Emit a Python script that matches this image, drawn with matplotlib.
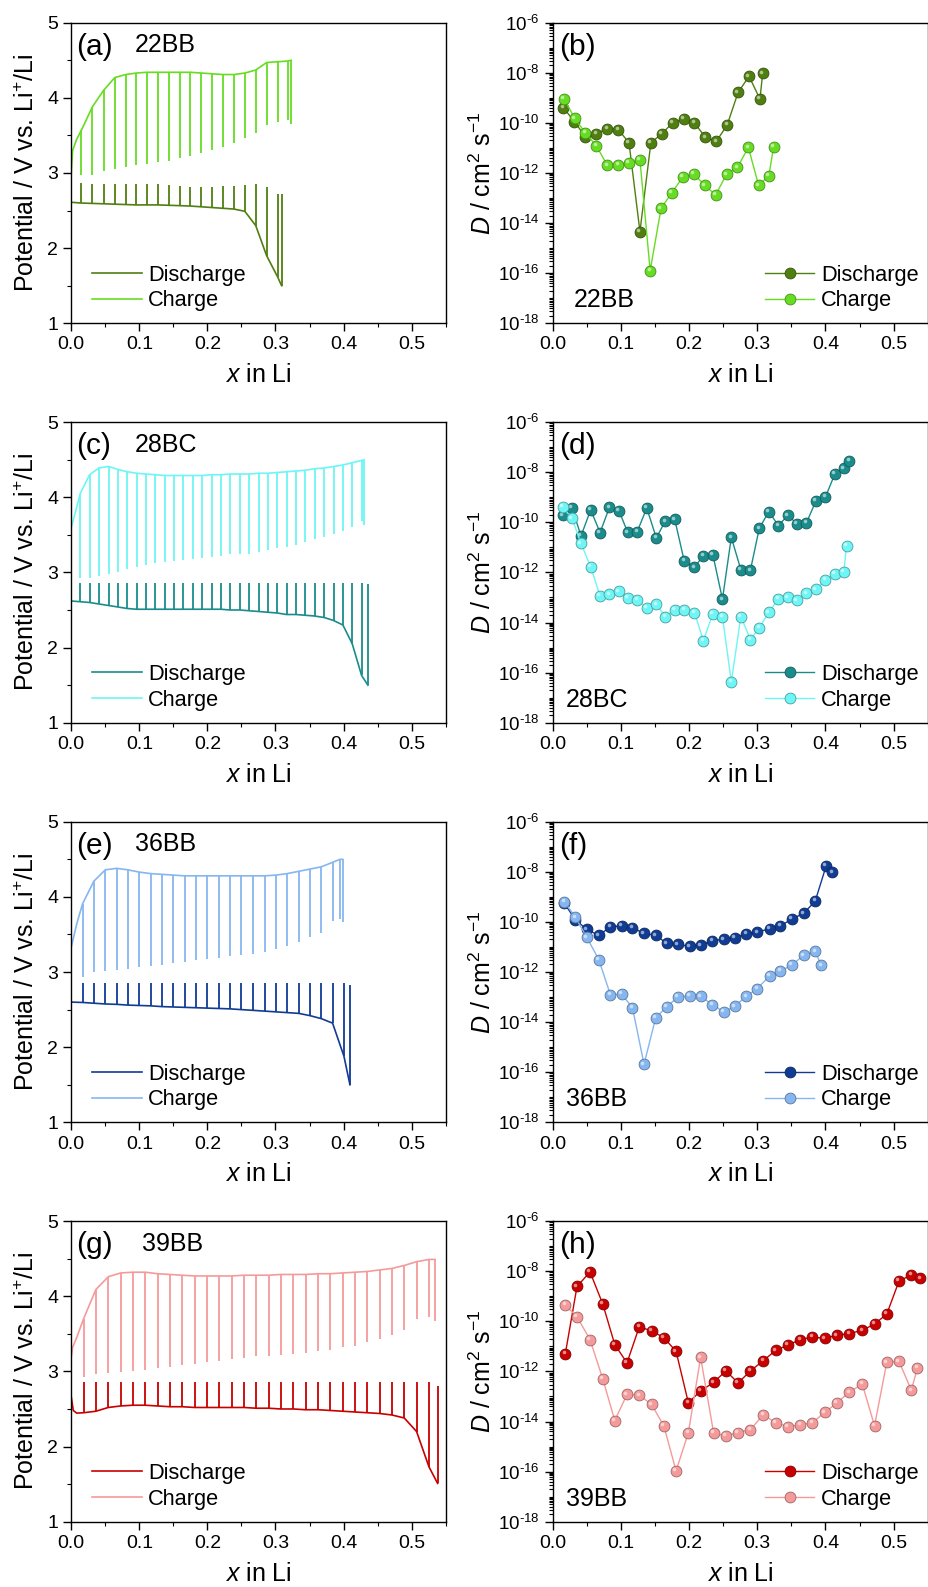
import numpy as np
import matplotlib
matplotlib.use('Agg')
import matplotlib.pyplot as plt
from matplotlib.ticker import MultipleLocator, FixedLocator, LogLocator, FuncFormatter, NullFormatter
from matplotlib.transforms import offset_copy
from matplotlib.colors import to_rgb

plt.rcParams['font.family'] = ['Liberation Sans', 'DejaVu Sans']
plt.rcParams['mathtext.fontset'] = 'custom'
plt.rcParams['mathtext.rm'] = 'Liberation Sans'
plt.rcParams['mathtext.it'] = 'Liberation Sans:italic'
plt.rcParams['axes.linewidth'] = 1.0

# ---------------- 22BB ----------------
a_chg_head_x = [0.0, 0.002, 0.008]
a_chg_head_v = [3.00, 3.30, 3.45]
a_chg_x = [0.015, 0.031, 0.0475, 0.064, 0.080, 0.0955, 0.111, 0.127, 0.1435, 0.160, 0.175,
           0.191, 0.207, 0.223, 0.239, 0.255, 0.271, 0.287, 0.303, 0.318, 0.323]
a_chg_ccv = [3.57, 3.88, 4.10, 4.27, 4.31, 4.33, 4.34, 4.34, 4.34, 4.34, 4.34,
             4.33, 4.32, 4.31, 4.31, 4.33, 4.37, 4.47, 4.48, 4.49, 4.50]
a_chg_ocv = [2.97, 2.97, 3.03, 3.05, 3.08, 3.10, 3.12, 3.15, 3.16, 3.20, 3.23,
             3.26, 3.31, 3.35, 3.40, 3.46, 3.53, 3.64, 3.68, 3.70, 3.65]
a_dis_head_x = [0.0]
a_dis_head_v = [2.61]
a_dis_x = [0.015, 0.031, 0.0475, 0.064, 0.080, 0.0955, 0.111, 0.127, 0.1435, 0.160,
           0.175, 0.191, 0.207, 0.223, 0.239, 0.255, 0.271, 0.287, 0.303, 0.309]
a_dis_ccv = [2.60, 2.595, 2.59, 2.585, 2.58, 2.575, 2.575, 2.575, 2.57, 2.565,
             2.56, 2.55, 2.54, 2.53, 2.52, 2.49, 2.30, 1.90, 1.62, 1.50]
a_dis_ocv = [2.87, 2.86, 2.85, 2.85, 2.85, 2.85, 2.85, 2.85, 2.84, 2.83,
             2.82, 2.81, 2.82, 2.83, 2.83, 2.84, 2.85, 2.81, 2.72, 2.72]

b_dis_x = [0.0157, 0.0318, 0.048, 0.064, 0.080, 0.0965, 0.112, 0.128, 0.144, 0.160,
           0.176, 0.192, 0.208, 0.224, 0.240, 0.256, 0.272, 0.288, 0.304, 0.308]
b_dis_logD = [-9.39, -9.95, -10.55, -10.43, -10.23, -10.27, -10.80, -14.34, -10.80, -10.43,
              -10.00, -9.83, -10.00, -10.58, -10.74, -10.08, -8.78, -8.14, -9.05, -8.02]
b_chg_x = [0.0167, 0.0323, 0.048, 0.064, 0.080, 0.0965, 0.112, 0.128, 0.143, 0.159, 0.175,
           0.191, 0.207, 0.223, 0.239, 0.255, 0.271, 0.287, 0.302, 0.317, 0.324]
b_chg_logD = [-9.03, -9.82, -10.40, -10.91, -11.69, -11.67, -11.59, -11.48, -15.90, -13.41, -12.78,
              -12.16, -12.04, -12.49, -12.88, -12.05, -11.77, -10.98, -12.49, -12.12, -10.96]

# ---------------- 28BC ----------------
c_chg_head_x = [0.0, 0.006]
c_chg_head_v = [3.60, 3.80]
c_chg_x = [0.0132, 0.0269, 0.0406, 0.0548, 0.0686, 0.0823, 0.0960, 0.1097, 0.1234, 0.1371,
           0.1508, 0.1645, 0.1783, 0.1920, 0.2062, 0.2199, 0.2336, 0.2478, 0.2615, 0.2752,
           0.2889, 0.3026, 0.3164, 0.3301, 0.3438, 0.3575, 0.3717, 0.3854, 0.3991, 0.4128,
           0.4265, 0.4300]
c_chg_ccv = [4.05, 4.30, 4.39, 4.41, 4.37, 4.34, 4.32, 4.31, 4.30, 4.29,
             4.29, 4.29, 4.29, 4.29, 4.30, 4.30, 4.31, 4.31, 4.31, 4.32,
             4.32, 4.33, 4.34, 4.35, 4.36, 4.38, 4.39, 4.41, 4.43, 4.46,
             4.49, 4.50]
c_chg_ocv = [2.93, 2.93, 2.95, 2.98, 3.01, 3.04, 3.07, 3.10, 3.12, 3.14,
             3.15, 3.16, 3.18, 3.19, 3.21, 3.22, 3.24, 3.24, 3.25, 3.27,
             3.30, 3.32, 3.34, 3.37, 3.41, 3.44, 3.47, 3.51, 3.55, 3.61,
             3.68, 3.63]
c_dis_head_x = [0.0]
c_dis_head_v = [2.62]
c_dis_x = c_chg_x[:31] + [0.4358]
c_dis_ccv = [2.61, 2.60, 2.58, 2.56, 2.54, 2.52, 2.51, 2.51, 2.51, 2.51,
             2.51, 2.51, 2.51, 2.51, 2.51, 2.51, 2.50, 2.50, 2.49, 2.48,
             2.47, 2.46, 2.44, 2.44, 2.43, 2.42, 2.40, 2.36, 2.30, 2.05,
             1.63, 1.50]
c_dis_ocv = [2.86, 2.86, 2.86, 2.86, 2.86, 2.86, 2.86, 2.86, 2.86, 2.86,
             2.86, 2.86, 2.86, 2.86, 2.86, 2.86, 2.86, 2.86, 2.86, 2.86,
             2.86, 2.86, 2.86, 2.86, 2.86, 2.86, 2.86, 2.86, 2.86, 2.86,
             2.86, 2.84]

d_dis_x = [0.0147, 0.0284, 0.0416, 0.0558, 0.0695, 0.0833, 0.0975, 0.110, 0.124, 0.138,
           0.152, 0.165, 0.179, 0.193, 0.208, 0.221, 0.235, 0.249, 0.262, 0.276,
           0.290, 0.303, 0.317, 0.331, 0.345, 0.358, 0.372, 0.386, 0.400, 0.414,
           0.427, 0.435]
d_dis_logD = [-9.72, -9.43, -10.54, -9.50, -10.41, -9.40, -9.55, -10.40, -10.37, -9.43,
              -10.62, -9.96, -9.88, -11.55, -11.79, -11.33, -11.30, -13.07, -10.60, -11.89,
              -11.91, -10.24, -9.57, -10.13, -9.72, -10.05, -10.03, -9.15, -8.99, -8.06,
              -7.85, -7.54]
d_chg_x = [0.0147, 0.0284, 0.0416, 0.0558, 0.0695, 0.0833, 0.0975, 0.110, 0.124, 0.138,
           0.152, 0.165, 0.179, 0.193, 0.208, 0.221, 0.235, 0.249, 0.262, 0.276,
           0.290, 0.303, 0.317, 0.331, 0.345, 0.358, 0.372, 0.386, 0.400, 0.414,
           0.427, 0.431]
d_chg_logD = [-9.39, -9.84, -10.84, -11.78, -12.94, -12.88, -12.76, -13.02, -13.10, -13.42,
              -13.27, -13.76, -13.49, -13.48, -13.60, -14.73, -13.64, -13.76, -16.37, -13.76,
              -14.68, -14.21, -13.59, -13.06, -12.99, -13.12, -12.84, -12.67, -12.30, -12.05,
              -11.97, -10.93]

# ---------------- 36BB ----------------
e_chg_head_x = [0.0, 0.008]
e_chg_head_v = [3.33, 3.64]
e_chg_x = [0.0167, 0.0333, 0.0500, 0.0666, 0.0833, 0.0999, 0.1166, 0.1332, 0.1499, 0.1665,
           0.1832, 0.1998, 0.2165, 0.2331, 0.2498, 0.2674, 0.2840, 0.3007, 0.3173, 0.3340,
           0.3506, 0.3673, 0.3839, 0.3947, 0.3986]
e_chg_ccv = [3.91, 4.21, 4.36, 4.38, 4.36, 4.33, 4.31, 4.30, 4.29, 4.28,
             4.28, 4.28, 4.28, 4.28, 4.28, 4.28, 4.28, 4.29, 4.31, 4.34,
             4.37, 4.40, 4.46, 4.50, 4.50]
e_chg_ocv = [2.93, 3.00, 3.02, 3.03, 3.04, 3.07, 3.08, 3.10, 3.12, 3.13,
             3.16, 3.17, 3.19, 3.21, 3.23, 3.24, 3.27, 3.30, 3.35, 3.40,
             3.46, 3.52, 3.68, 3.70, 3.67]
e_dis_head_x = [0.0]
e_dis_head_v = [2.60]
e_dis_x = e_chg_x[:23] + [0.4006, 0.4094]
e_dis_ccv = [2.595, 2.585, 2.575, 2.57, 2.56, 2.555, 2.55, 2.54, 2.535, 2.53,
             2.525, 2.52, 2.515, 2.51, 2.50, 2.49, 2.48, 2.47, 2.46, 2.45,
             2.42, 2.38, 2.32, 1.88, 1.50]
e_dis_ocv = [2.85, 2.85, 2.85, 2.85, 2.85, 2.85, 2.85, 2.85, 2.85, 2.85,
             2.85, 2.85, 2.85, 2.85, 2.85, 2.85, 2.85, 2.85, 2.85, 2.85,
             2.85, 2.85, 2.85, 2.86, 2.83]

f_dis_x = [0.0171, 0.0333, 0.050, 0.0676, 0.0847, 0.101, 0.117, 0.134, 0.151, 0.167,
           0.184, 0.201, 0.217, 0.234, 0.251, 0.267, 0.284, 0.300, 0.318, 0.334,
           0.351, 0.368, 0.385, 0.401, 0.410]
f_dis_logD = [-9.25, -9.92, -10.29, -10.54, -10.19, -10.16, -10.23, -10.46, -10.53, -10.85,
              -10.90, -10.97, -10.94, -10.75, -10.69, -10.63, -10.47, -10.41, -10.27, -10.16,
              -9.88, -9.66, -9.17, -7.77, -8.02]
f_chg_x = [0.0171, 0.0333, 0.050, 0.0676, 0.0847, 0.101, 0.117, 0.134, 0.151, 0.167,
           0.184, 0.201, 0.217, 0.234, 0.251, 0.267, 0.284, 0.300, 0.318, 0.334,
           0.351, 0.368, 0.385, 0.394]
f_chg_logD = [-9.19, -9.81, -10.61, -11.50, -12.91, -12.88, -13.42, -15.68, -13.84, -13.38,
              -13.00, -12.96, -12.97, -13.30, -13.59, -13.37, -12.97, -12.66, -12.16, -11.96,
              -11.72, -11.33, -11.18, -11.73]

# ---------------- 39BB ----------------
g_chg_head_x = [0.0, 0.002, 0.008]
g_chg_head_v = [3.19, 3.32, 3.45]
g_chg_x = [0.0181, 0.0362, 0.0544, 0.0725, 0.0906, 0.1087, 0.1268, 0.1450, 0.1631, 0.1812,
           0.1993, 0.2174, 0.2356, 0.2537, 0.2718, 0.2899, 0.3080, 0.3262, 0.3443, 0.3624,
           0.3805, 0.3986, 0.4168, 0.4349, 0.4530, 0.4711, 0.4892, 0.5073, 0.5255, 0.5343]
g_chg_ccv = [3.70, 4.09, 4.26, 4.31, 4.32, 4.32, 4.30, 4.29, 4.28, 4.27,
             4.27, 4.27, 4.27, 4.28, 4.28, 4.28, 4.29, 4.29, 4.29, 4.30,
             4.30, 4.31, 4.32, 4.33, 4.35, 4.37, 4.41, 4.46, 4.49, 4.49]
g_chg_ocv = [2.92, 2.96, 2.98, 2.99, 3.00, 3.02, 3.04, 3.06, 3.09, 3.10,
             3.12, 3.14, 3.16, 3.18, 3.20, 3.21, 3.22, 3.23, 3.25, 3.27,
             3.29, 3.32, 3.34, 3.39, 3.43, 3.48, 3.55, 3.70, 3.73, 3.67]
g_dis_head_x = [0.0, 0.003, 0.008]
g_dis_head_v = [2.66, 2.48, 2.445]
g_dis_x = g_chg_x[:29] + [0.5382]
g_dis_ccv = [2.45, 2.47, 2.52, 2.54, 2.55, 2.55, 2.54, 2.53, 2.53, 2.52,
             2.52, 2.52, 2.52, 2.52, 2.51, 2.51, 2.50, 2.50, 2.49, 2.49,
             2.48, 2.47, 2.46, 2.45, 2.44, 2.42, 2.38, 2.20, 1.73, 1.51]
g_dis_ocv = [2.86, 2.86, 2.86, 2.86, 2.86, 2.86, 2.86, 2.86, 2.86, 2.86,
             2.86, 2.86, 2.86, 2.86, 2.86, 2.86, 2.86, 2.86, 2.86, 2.86,
             2.86, 2.86, 2.86, 2.86, 2.86, 2.86, 2.86, 2.86, 2.86, 2.81]

h_dis_x = [0.0186, 0.0357, 0.0548, 0.0735, 0.0911, 0.109, 0.127, 0.145, 0.163, 0.181,
           0.199, 0.217, 0.236, 0.254, 0.272, 0.290, 0.309, 0.327, 0.345, 0.363,
           0.381, 0.399, 0.417, 0.435, 0.454, 0.472, 0.490, 0.508, 0.526, 0.539]
h_dis_logD = [-11.29, -8.61, -8.03, -9.31, -10.93, -11.66, -10.22, -10.38, -10.65, -11.20,
              -13.25, -12.78, -12.44, -11.98, -12.46, -11.98, -11.57, -11.16, -10.95, -10.73,
              -10.63, -10.68, -10.56, -10.49, -10.36, -10.11, -9.71, -8.39, -8.15, -8.28]
h_chg_x = [0.0186, 0.0357, 0.0548, 0.0735, 0.0911, 0.109, 0.127, 0.145, 0.163, 0.181,
           0.199, 0.217, 0.236, 0.254, 0.272, 0.290, 0.309, 0.327, 0.345, 0.363,
           0.381, 0.399, 0.417, 0.435, 0.454, 0.472, 0.490, 0.508, 0.526, 0.535]
h_chg_logD = [-9.35, -9.82, -10.73, -12.30, -13.96, -12.92, -12.95, -13.32, -14.17, -15.97,
              -14.45, -11.44, -14.45, -14.58, -14.44, -14.32, -13.73, -14.05, -14.20, -14.14,
              -14.04, -13.64, -13.25, -12.83, -12.50, -14.17, -11.64, -11.60, -12.75, -11.86]

samples = ['22BB', '28BC', '36BB', '39BB']
dis_colors = ['#4f7f10', '#1a8c8c', '#103c94', '#c80000']
chg_colors = ['#66dd22', '#6ef5f5', '#86b6f0', '#f59a9a']
left_tags = ['(a)', '(c)', '(e)', '(g)']
right_tags = ['(b)', '(d)', '(f)', '(h)']
name_x_left = [0.17, 0.17, 0.17, 0.19]
name_x_right = [0.055, 0.036, 0.036, 0.036]

gitt = [
    (a_dis_head_x, a_dis_head_v, a_dis_x, a_dis_ccv, a_dis_ocv,
     a_chg_head_x, a_chg_head_v, a_chg_x, a_chg_ccv, a_chg_ocv),
    (c_dis_head_x, c_dis_head_v, c_dis_x, c_dis_ccv, c_dis_ocv,
     c_chg_head_x, c_chg_head_v, c_chg_x, c_chg_ccv, c_chg_ocv),
    (e_dis_head_x, e_dis_head_v, e_dis_x, e_dis_ccv, e_dis_ocv,
     e_chg_head_x, e_chg_head_v, e_chg_x, e_chg_ccv, e_chg_ocv),
    (g_dis_head_x, g_dis_head_v, g_dis_x, g_dis_ccv, g_dis_ocv,
     g_chg_head_x, g_chg_head_v, g_chg_x, g_chg_ccv, g_chg_ocv),
]
diff = [
    (b_dis_x, b_dis_logD, b_chg_x, b_chg_logD),
    (d_dis_x, d_dis_logD, d_chg_x, d_chg_logD),
    (f_dis_x, f_dis_logD, f_chg_x, f_chg_logD),
    (h_dis_x, h_dis_logD, h_chg_x, h_chg_logD),
]


def mix(color, other, t):
    c = np.array(to_rgb(color))
    o = np.array(to_rgb(other))
    return tuple(c * (1 - t) + o * t)


def style_axis(ax):
    ax.tick_params(which='major', direction='out', length=5.5, width=1.0,
                   labelsize=14, top=False, right=False, pad=4)
    ax.tick_params(which='minor', direction='out', length=3, width=0.8,
                   top=False, right=False)
    ax.set_xlim(0, 0.55)
    ax.xaxis.set_major_locator(MultipleLocator(0.1))
    ax.xaxis.set_minor_locator(MultipleLocator(0.05))
    ax.xaxis.set_major_formatter(FuncFormatter(lambda v, p: f'{v:.1f}'))
    ax.set_xlabel('$x$ in Li', fontsize=18, labelpad=7)


def log_label(v, p):
    k = int(round(np.log10(v)))
    return r'$10^{\text{-}%d}$' % abs(k)


def draw_gitt(ax, head_x, head_v, x, ccv, ocv, color, label):
    ax.plot(list(head_x) + list(x), list(head_v) + list(ccv), color=color, lw=1.2, label=label)
    ax.vlines(x, ccv, ocv, color=color, lw=1.3)


def draw_diff(ax, x, logD, color, label):
    D = 10.0 ** np.asarray(logD)
    ax.plot(x, D, '-o', color=color, lw=1.0, ms=7.8, mfc=color,
            mec=mix(color, 'black', 0.35), mew=0.6, label=label)
    hl = offset_copy(ax.transData, fig=ax.figure, x=-1.2, y=1.2, units='points')
    ax.plot(x, D, 'o', ms=2.6, color=mix(color, 'white', 0.55), mec='none',
            transform=hl)


fig = plt.figure(figsize=(9.29, 15.87), dpi=100)
bottoms = [0.7963, 0.5446, 0.2928, 0.04115]
height = 0.1894

for i in range(4):
    axl = fig.add_axes([0.0767, bottoms[i], 0.4030, height])
    axr = fig.add_axes([0.5949, bottoms[i], 0.4037, height])

    (dhx, dhv, dx, dccv, docv, chx, chv, cx, cccv, cocv) = gitt[i]
    draw_gitt(axl, dhx, dhv, dx, dccv, docv, dis_colors[i], 'Discharge')
    draw_gitt(axl, chx, chv, cx, cccv, cocv, chg_colors[i], 'Charge')
    style_axis(axl)
    axl.set_ylim(1, 5)
    axl.yaxis.set_major_locator(MultipleLocator(1))
    axl.yaxis.set_minor_locator(MultipleLocator(0.5))
    axl.set_ylabel('Potential / V vs. Li$^{+}$/Li', fontsize=18, labelpad=6)
    axl.text(0.014, 0.92, left_tags[i], transform=axl.transAxes, fontsize=21.5,
             ha='left', va='center')
    axl.text(name_x_left[i], 0.925, samples[i], transform=axl.transAxes, fontsize=18,
             ha='left', va='center')
    axl.legend(loc='lower left', bbox_to_anchor=(0.045, 0.025), frameon=False,
               fontsize=15.7, handlelength=2.25, handletextpad=0.3,
               labelspacing=0.22, borderpad=0.2, borderaxespad=0)

    (bx, bD, cxr, cD) = diff[i]
    draw_diff(axr, bx, bD, dis_colors[i], 'Discharge')
    draw_diff(axr, cxr, cD, chg_colors[i], 'Charge')
    axr.set_yscale('log')
    style_axis(axr)
    axr.set_ylim(1e-18, 1e-6)
    axr.yaxis.set_major_locator(FixedLocator([10.0 ** k for k in range(-18, -5, 2)]))
    axr.yaxis.set_major_formatter(FuncFormatter(log_label))
    axr.yaxis.set_minor_locator(LogLocator(base=10, subs=np.arange(1, 10) * 1.0, numticks=200))
    axr.yaxis.set_minor_formatter(NullFormatter())
    axr.tick_params(axis='y', which='major', labelsize=13.5)
    axr.set_ylabel(r'$D$ / cm$^{2}$ s$^{-1}$', fontsize=18, labelpad=1.5)
    axr.text(0.017, 0.92, right_tags[i], transform=axr.transAxes, fontsize=21.5,
             ha='left', va='center')
    axr.text(name_x_right[i], 0.077, samples[i], transform=axr.transAxes, fontsize=18,
             ha='left', va='center')
    axr.legend(loc='lower left', bbox_to_anchor=(0.555, 0.025), frameon=False,
               fontsize=15.7, handlelength=2.25, handletextpad=0.3,
               labelspacing=0.22, borderpad=0.2, borderaxespad=0)

fig.savefig('out.png', dpi=100)
